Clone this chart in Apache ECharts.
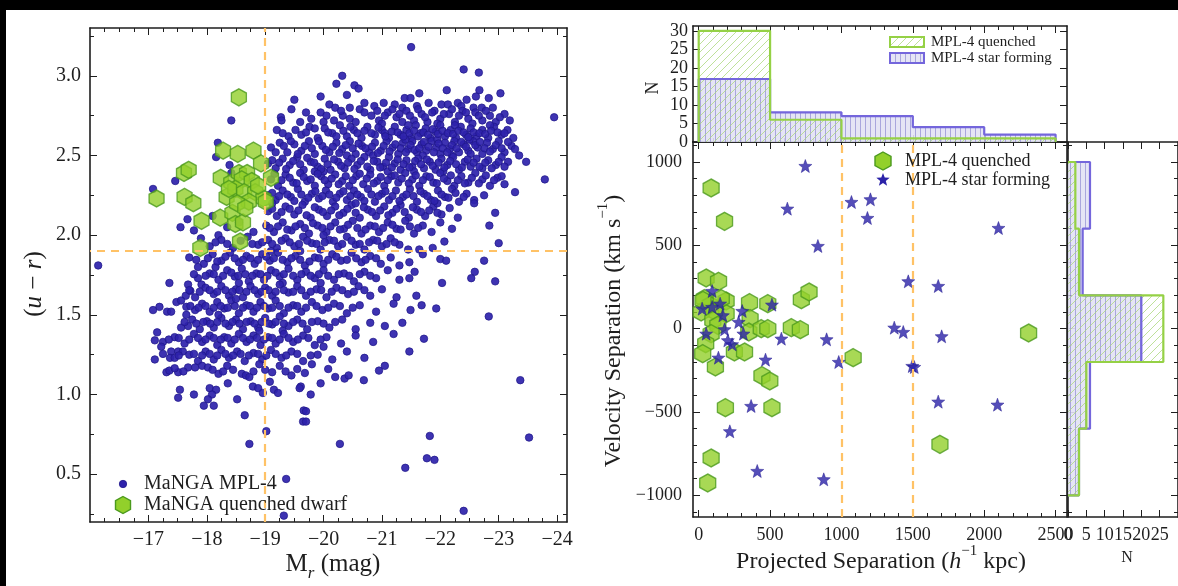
<!DOCTYPE html>
<html><head><meta charset="utf-8">
<script src="https://cdn.jsdelivr.net/npm/echarts@6/dist/echarts.min.js"></script>
<style>html,body{margin:0;padding:0;background:#fff}#chart{width:1178px;height:586px}</style>
</head><body><div id="chart"></div>
<script>
// ---- Colour–magnitude diagram: MaNGA MPL-4 galaxies, [M_r, u-r] ----
const mplGalaxies = [
[-19.50,2.85],[-19.95,2.87],[-20.22,2.95],[-20.32,3.00],[-20.53,2.94],[-20.40,2.88],[-20.60,2.92],[-20.10,2.82],[-20.20,2.80],[-20.45,2.80],[-20.70,2.83],[-20.87,2.81],[-21.03,2.83],[-21.22,2.82],[-21.39,2.86],[-21.64,2.89],[-22.11,2.91],[-22.67,2.91],[-22.61,2.87],[-22.83,2.86],[-23.03,2.89],[-21.49,2.86],[-21.80,2.83],[-22.02,2.82],[-22.13,2.82],[-22.30,2.83],[-22.36,2.81],[-22.57,2.80],[-22.71,2.80],[-22.90,2.80],[-21.50,3.18],[-22.40,3.04],[-22.66,3.02],[-21.60,2.81],[-21.35,2.80],[-22.45,2.85],
[-19.27,2.74],[-19.28,2.72],[-19.79,2.73],[-20.18,2.72],[-20.33,2.75],[-20.45,2.73],[-20.62,2.79],[-20.82,2.75],[-19.95,2.77],[-20.00,2.71],[-20.55,2.71],[-20.95,2.72],[-21.10,2.77],[-21.25,2.74],[-21.42,2.78],[-21.55,2.72],[-21.68,2.76],[-21.78,2.71],[-21.90,2.78],[-22.00,2.73],[-22.15,2.76],[-22.25,2.71],[-22.38,2.78],[-22.48,2.73],[-22.60,2.77],[-22.72,2.72],[-22.85,2.75],[-22.95,2.71],[-23.10,2.76],[-23.19,2.72],[-23.95,2.74],[-21.00,2.70],[-21.35,2.71],[-21.95,2.70],[-22.55,2.70],[-20.70,2.77],[-19.60,2.71],
[-19.62,2.63],[-19.76,2.68],[-20.02,2.67],[-19.40,2.62],[-19.90,2.61],[-20.15,2.64],[-20.28,2.69],[-20.40,2.62],[-20.52,2.66],[-20.65,2.61],[-20.75,2.68],[-20.88,2.63],[-21.00,2.66],[-21.12,2.61],[-21.22,2.68],[-21.32,2.63],[-21.42,2.66],[-21.50,2.61],[-21.58,2.69],[-21.66,2.64],[-21.75,2.67],[-21.83,2.61],[-21.92,2.65],[-22.00,2.69],[-22.08,2.62],[-22.18,2.66],[-22.27,2.61],[-22.35,2.68],[-22.44,2.63],[-22.52,2.67],[-22.62,2.62],[-22.72,2.66],[-22.82,2.61],[-22.92,2.68],[-23.05,2.63],[-23.15,2.66],[-23.25,2.61],[-21.45,2.69],[-21.05,2.64],[-22.25,2.69],[-22.85,2.69],[-19.20,2.66],
[-19.10,2.55],[-19.25,2.58],[-19.38,2.52],[-19.50,2.57],[-19.62,2.53],[-19.75,2.59],[-19.85,2.51],[-19.98,2.56],[-20.10,2.52],[-20.22,2.58],[-20.32,2.54],[-20.45,2.59],[-20.55,2.51],[-20.66,2.56],[-20.78,2.52],[-20.88,2.58],[-20.98,2.53],[-21.08,2.59],[-21.18,2.55],[-21.28,2.51],[-21.36,2.58],[-21.45,2.54],[-21.52,2.59],[-21.60,2.52],[-21.68,2.57],[-21.76,2.53],[-21.85,2.59],[-21.93,2.55],[-22.00,2.51],[-22.08,2.58],[-22.16,2.54],[-22.24,2.59],[-22.32,2.52],[-22.40,2.57],[-22.48,2.53],[-22.56,2.59],[-22.64,2.55],[-22.72,2.51],[-22.80,2.58],[-22.90,2.54],[-23.00,2.59],[-23.10,2.52],[-23.22,2.56],[-23.35,2.50],[-21.40,2.60],[-21.95,2.60],[-22.50,2.60],[-20.40,2.50],[-21.70,2.50],[-22.20,2.50],
[-19.05,2.45],[-19.18,2.42],[-19.30,2.48],[-19.42,2.44],[-19.55,2.49],[-19.66,2.41],[-19.78,2.46],[-19.90,2.43],[-20.02,2.48],[-20.12,2.41],[-20.25,2.46],[-20.36,2.42],[-20.48,2.48],[-20.58,2.44],[-20.70,2.49],[-20.80,2.41],[-20.92,2.46],[-21.02,2.43],[-21.12,2.49],[-21.22,2.45],[-21.32,2.41],[-21.42,2.47],[-21.52,2.43],[-21.62,2.48],[-21.72,2.42],[-21.82,2.46],[-21.92,2.41],[-22.02,2.48],[-22.12,2.44],[-22.22,2.49],[-22.32,2.41],[-22.42,2.46],[-22.52,2.43],[-22.62,2.48],[-22.72,2.42],[-22.82,2.47],[-22.95,2.44],[-23.05,2.49],[-23.16,2.46],[-23.47,2.46],[-20.85,2.50],[-21.55,2.40],[-22.05,2.40],[-19.85,2.40],
[-19.10,2.35],[-19.22,2.31],[-19.35,2.38],[-19.48,2.33],[-19.60,2.39],[-19.72,2.34],[-19.85,2.31],[-19.96,2.37],[-20.08,2.32],[-20.20,2.38],[-20.32,2.34],[-20.44,2.31],[-20.56,2.37],[-20.68,2.32],[-20.80,2.38],[-20.92,2.34],[-21.04,2.31],[-21.16,2.37],[-21.28,2.33],[-21.40,2.39],[-21.52,2.35],[-21.64,2.31],[-21.76,2.37],[-21.88,2.33],[-22.00,2.39],[-22.12,2.34],[-22.24,2.31],[-22.36,2.37],[-22.48,2.33],[-22.60,2.39],[-22.72,2.35],[-22.85,2.31],[-22.98,2.36],[-23.10,2.32],[-23.79,2.35],[-20.00,2.40],[-21.10,2.40],[-18.42,2.39],[-17.46,2.34],
[-18.42,2.72],[-18.19,2.58],[-18.16,2.49],[-18.39,2.44],
[-19.05,2.25],[-19.18,2.22],[-19.30,2.28],[-19.44,2.24],[-19.56,2.29],[-19.68,2.21],[-19.80,2.26],[-19.92,2.23],[-20.04,2.28],[-20.16,2.21],[-20.28,2.26],[-20.40,2.22],[-20.52,2.28],[-20.64,2.24],[-20.76,2.29],[-20.88,2.21],[-21.00,2.26],[-21.12,2.22],[-21.24,2.28],[-21.36,2.24],[-21.48,2.29],[-21.60,2.21],[-21.72,2.26],[-21.84,2.22],[-21.96,2.28],[-22.08,2.24],[-22.20,2.29],[-22.32,2.21],[-22.45,2.26],[-22.58,2.22],[-22.75,2.25],[-23.28,2.27],[-22.58,2.20],[-17.08,2.29],
[-19.05,2.15],[-19.20,2.12],[-19.35,2.18],[-19.50,2.13],[-19.64,2.19],[-19.78,2.11],[-19.92,2.16],[-20.06,2.12],[-20.20,2.18],[-20.34,2.14],[-20.48,2.19],[-20.62,2.11],[-20.76,2.16],[-20.90,2.12],[-21.04,2.18],[-21.18,2.14],[-21.32,2.19],[-21.46,2.11],[-21.60,2.16],[-21.74,2.12],[-21.88,2.18],[-22.02,2.13],[-22.16,2.17],[-22.30,2.11],[-22.94,2.14],[-18.10,2.12],[-17.67,2.10],[-19.12,2.20],[-20.55,2.20],[-21.95,2.20],
[-17.55,2.05],[-17.78,2.03],[-18.35,2.05],[-18.55,2.08],[-19.02,2.06],[-19.15,2.02],[-19.30,2.08],[-19.45,2.03],[-19.60,2.07],[-19.75,2.01],[-19.90,2.06],[-20.05,2.02],[-20.20,2.08],[-20.35,2.04],[-20.50,2.09],[-20.65,2.01],[-20.80,2.06],[-20.95,2.02],[-21.10,2.08],[-21.25,2.04],[-21.40,2.09],[-21.55,2.01],[-21.70,2.06],[-21.85,2.02],[-22.00,2.08],[-22.20,2.04],[-22.84,2.06],[-18.80,2.02],[-18.20,2.00],
[-17.90,1.98],[-18.05,1.93],[-18.25,1.97],[-18.45,1.92],[-18.70,1.99],[-18.88,1.94],[-19.05,1.97],[-19.20,1.92],[-19.35,1.98],[-19.50,1.93],[-19.65,1.99],[-19.80,1.95],[-19.95,1.91],[-20.10,1.97],[-20.25,1.93],[-20.40,1.99],[-20.55,1.94],[-20.70,1.91],[-20.85,1.97],[-21.00,1.93],[-21.15,1.98],[-21.30,1.94],[-21.45,1.91],[-21.64,1.91],[-21.70,1.88],[-21.87,1.92],[-22.07,1.96],[-23.00,1.95],[-19.10,1.90],[-20.00,2.00],
[-17.70,1.86],[-17.95,1.82],[-18.10,1.88],[-18.25,1.84],[-18.40,1.89],[-18.55,1.83],[-18.68,1.87],[-18.82,1.82],[-18.95,1.88],[-19.08,1.84],[-19.22,1.89],[-19.38,1.83],[-19.52,1.87],[-19.68,1.81],[-19.85,1.86],[-20.00,1.82],[-20.15,1.88],[-20.30,1.84],[-20.48,1.89],[-20.65,1.83],[-20.80,1.87],[-20.98,1.82],[-21.15,1.86],[-21.30,1.81],[-21.47,1.83],[-22.00,1.85],[-22.10,1.84],[-22.75,1.84],[-16.14,1.81],[-17.85,1.80],[-19.60,1.90],
[-17.36,1.70],[-17.85,1.73],[-17.91,1.69],[-17.68,1.69],[-18.05,1.76],[-18.20,1.72],[-18.35,1.78],[-18.48,1.74],[-18.60,1.79],[-18.72,1.71],[-18.85,1.76],[-18.98,1.72],[-19.10,1.78],[-19.25,1.74],[-19.40,1.79],[-19.55,1.72],[-19.70,1.77],[-19.85,1.73],[-20.00,1.78],[-20.18,1.72],[-20.35,1.76],[-20.52,1.71],[-20.70,1.77],[-20.90,1.73],[-21.10,1.78],[-21.30,1.72],[-21.56,1.77],[-21.47,1.73],[-22.03,1.70],[-22.59,1.77],[-22.53,1.73],[-22.94,1.71],[-18.15,1.80],[-19.30,1.70],
[-17.64,1.62],[-17.72,1.65],[-17.80,1.61],[-17.98,1.67],[-18.12,1.63],[-18.25,1.68],[-18.38,1.62],[-18.50,1.66],[-18.62,1.61],[-18.75,1.68],[-18.88,1.63],[-19.00,1.67],[-19.12,1.62],[-19.25,1.69],[-19.40,1.64],[-19.55,1.68],[-19.70,1.62],[-19.88,1.66],[-20.05,1.61],[-20.22,1.67],[-20.42,1.63],[-20.60,1.68],[-20.80,1.62],[-21.00,1.66],[-21.25,1.61],[-21.59,1.62],[-18.55,1.70],[-19.95,1.70],
[-17.08,1.53],[-17.19,1.55],[-17.32,1.52],[-17.39,1.52],[-17.48,1.58],[-17.56,1.59],[-17.65,1.50],[-17.65,1.55],[-17.80,1.53],[-17.92,1.57],[-18.05,1.52],[-18.18,1.58],[-18.30,1.54],[-18.42,1.59],[-18.55,1.51],[-18.68,1.56],[-18.80,1.52],[-18.92,1.58],[-19.05,1.54],[-19.18,1.59],[-19.32,1.51],[-19.48,1.56],[-19.62,1.52],[-19.80,1.58],[-19.98,1.53],[-20.18,1.57],[-20.40,1.51],[-20.62,1.56],[-20.90,1.52],[-21.20,1.57],[-21.68,1.56],[-21.93,1.54],[-21.49,1.53],[-18.50,1.60],[-22.83,1.49],
[-17.56,1.42],[-17.68,1.43],[-17.75,1.47],[-17.88,1.41],[-18.00,1.46],[-18.12,1.42],[-18.25,1.48],[-18.38,1.43],[-18.50,1.47],[-18.62,1.41],[-18.75,1.46],[-18.88,1.42],[-19.00,1.48],[-19.12,1.44],[-19.25,1.49],[-19.40,1.43],[-19.55,1.47],[-19.72,1.41],[-19.90,1.46],[-20.10,1.42],[-20.32,1.47],[-20.55,1.41],[-20.80,1.45],[-21.05,1.43],[-21.35,1.45],[-18.20,1.50],[-19.30,1.40],
[-17.15,1.39],[-17.11,1.34],[-17.25,1.33],[-17.22,1.30],[-17.45,1.36],[-17.62,1.32],[-17.78,1.38],[-17.92,1.33],[-18.05,1.37],[-18.18,1.31],[-18.30,1.36],[-18.42,1.32],[-18.55,1.38],[-18.68,1.33],[-18.80,1.37],[-18.92,1.31],[-19.05,1.36],[-19.18,1.32],[-19.32,1.38],[-19.48,1.33],[-19.65,1.37],[-19.85,1.31],[-20.05,1.36],[-20.30,1.32],[-20.55,1.37],[-20.85,1.33],[-21.72,1.35],[-21.20,1.38],[-18.90,1.40],
[-17.11,1.22],[-17.39,1.27],[-17.51,1.27],[-17.59,1.27],[-17.37,1.23],[-17.45,1.23],[-17.70,1.25],[-17.85,1.21],[-17.98,1.27],[-18.12,1.22],[-18.25,1.28],[-18.38,1.23],[-18.52,1.27],[-18.65,1.21],[-18.80,1.26],[-18.95,1.22],[-19.10,1.28],[-19.28,1.23],[-19.45,1.27],[-19.65,1.21],[-19.90,1.25],[-20.15,1.22],[-20.40,1.27],[-20.70,1.23],[-21.47,1.27],[-20.00,1.30],
[-17.31,1.14],[-17.36,1.15],[-17.51,1.14],[-17.68,1.17],[-17.80,1.17],[-17.92,1.18],[-18.02,1.17],[-18.20,1.13],[-18.35,1.18],[-18.60,1.13],[-18.67,1.12],[-18.73,1.11],[-19.12,1.14],[-19.25,1.18],[-19.45,1.12],[-19.55,1.16],[-20.08,1.16],[-20.20,1.11],[-20.36,1.10],[-20.43,1.12],[-20.69,1.09],[-21.05,1.18],[-18.90,1.19],[-19.80,1.19],[-20.95,1.15],[-23.37,1.09],
[-17.54,1.03],[-17.51,0.98],[-17.78,1.00],[-18.05,1.04],[-18.16,1.03],[-18.09,1.00],[-18.02,0.97],[-17.95,0.93],[-18.12,0.93],[-18.36,1.07],[-18.52,0.97],[-18.79,1.05],[-18.88,1.04],[-18.96,1.01],[-19.08,1.08],[-19.15,1.03],[-19.22,1.01],[-19.61,1.05],[-19.59,1.04],[-19.78,1.00],[-19.95,1.07],[-19.66,0.90],[-18.65,0.87],[-19.70,0.895],
[-19.65,0.83],[-19.70,0.83],[-19.02,0.77],[-18.73,0.69],[-20.28,0.69],[-21.40,0.54],[-19.36,0.47],[-19.32,0.24],[-22.40,0.27],[-21.82,0.74],[-21.77,0.60],[-21.90,0.59],[-23.52,0.73],
// red sequence and green valley, inner rows
[-20.92,2.78],[-21.05,2.75],[-21.18,2.79],[-21.30,2.76],[-21.48,2.75],[-21.62,2.79],[-21.74,2.74],[-21.86,2.77],[-22.06,2.76],[-22.20,2.79],[-22.32,2.75],[-22.44,2.77],[-22.66,2.75],[-22.78,2.78],[-23.02,2.74],[-20.30,2.78],[-20.05,2.75],[-19.70,2.77],[-19.45,2.79],
[-19.30,2.64],[-19.52,2.66],[-19.70,2.645],[-19.85,2.67],[-20.08,2.645],[-20.22,2.62],[-20.34,2.655],[-20.46,2.68],[-20.58,2.64],[-20.70,2.655],[-20.82,2.64],[-20.94,2.675],[-21.06,2.62],[-21.17,2.65],[-21.27,2.645],[-21.37,2.62],[-21.47,2.64],[-21.55,2.655],[-21.62,2.62],[-21.71,2.645],[-21.79,2.63],[-21.87,2.665],[-21.96,2.635],[-22.04,2.655],[-22.13,2.64],[-22.22,2.635],[-22.31,2.655],[-22.40,2.645],[-22.48,2.615],[-22.57,2.645],[-22.67,2.64],[-22.77,2.635],[-22.87,2.655],[-22.98,2.645],[-23.10,2.64],
[-19.18,2.52],[-19.32,2.56],[-19.44,2.59],[-19.56,2.51],[-19.68,2.56],[-19.80,2.545],[-19.92,2.59],[-20.04,2.535],[-20.16,2.555],[-20.27,2.515],[-20.38,2.565],[-20.50,2.545],[-20.60,2.575],[-20.72,2.545],[-20.83,2.555],[-20.93,2.515],[-21.03,2.56],[-21.13,2.525],[-21.23,2.57],[-21.32,2.545],[-21.41,2.52],[-21.49,2.565],[-21.56,2.535],[-21.64,2.545],[-21.72,2.585],[-21.80,2.555],[-21.89,2.52],[-21.97,2.575],[-22.04,2.545],[-22.12,2.52],[-22.20,2.565],[-22.28,2.545],[-22.36,2.585],[-22.44,2.555],[-22.52,2.51],[-22.60,2.565],[-22.68,2.585],[-22.76,2.545],[-22.85,2.525],[-22.95,2.565],[-23.05,2.545],[-23.16,2.585],[-23.28,2.54],
[-19.12,2.47],[-19.24,2.455],[-19.36,2.415],[-19.48,2.465],[-19.60,2.445],[-19.72,2.485],[-19.84,2.455],[-19.96,2.415],[-20.07,2.445],[-20.18,2.475],[-20.30,2.435],[-20.42,2.455],[-20.53,2.415],[-20.64,2.465],[-20.75,2.43],[-20.86,2.465],[-20.97,2.425],[-21.07,2.455],[-21.17,2.425],[-21.27,2.475],[-21.37,2.445],[-21.47,2.425],[-21.57,2.465],[-21.67,2.445],[-21.77,2.475],[-21.87,2.435],[-21.97,2.455],[-22.07,2.425],[-22.17,2.465],[-22.27,2.445],[-22.37,2.425],[-22.47,2.475],[-22.57,2.455],[-22.67,2.43],[-22.77,2.455],[-22.88,2.42],[-23.00,2.46],[-23.10,2.43],
[-19.16,2.385],[-19.28,2.345],[-19.42,2.36],[-19.54,2.325],[-19.66,2.365],[-19.78,2.35],[-19.90,2.385],[-20.02,2.345],[-20.14,2.355],[-20.26,2.32],[-20.38,2.37],[-20.50,2.345],[-20.62,2.385],[-20.74,2.355],[-20.86,2.325],[-20.98,2.365],[-21.10,2.345],[-21.22,2.375],[-21.34,2.355],[-21.46,2.325],[-21.58,2.375],[-21.70,2.345],[-21.82,2.365],[-21.94,2.325],[-22.06,2.355],[-22.18,2.375],[-22.30,2.345],[-22.42,2.325],[-22.54,2.36],[-22.66,2.325],[-22.78,2.375],[-22.92,2.345],[-23.05,2.37],
[-19.12,2.265],[-19.24,2.245],[-19.38,2.255],[-19.50,2.215],[-19.62,2.255],[-19.74,2.235],[-19.86,2.275],[-19.98,2.245],[-20.10,2.255],[-20.22,2.235],[-20.34,2.275],[-20.46,2.245],[-20.58,2.255],[-20.70,2.215],[-20.82,2.255],[-20.94,2.245],[-21.06,2.275],[-21.18,2.245],[-21.30,2.215],[-21.42,2.255],[-21.54,2.245],[-21.66,2.275],[-21.78,2.245],[-21.90,2.215],[-22.02,2.255],[-22.14,2.235],[-22.26,2.265],[-22.40,2.24],
[-19.12,2.165],[-19.28,2.145],[-19.42,2.165],[-19.57,2.155],[-19.71,2.125],[-19.85,2.175],[-19.99,2.145],[-20.13,2.155],[-20.27,2.125],[-20.41,2.165],[-20.55,2.14],[-20.69,2.175],[-20.83,2.145],[-20.97,2.155],[-21.11,2.125],[-21.25,2.165],[-21.39,2.145],[-21.53,2.175],[-21.67,2.145],[-21.81,2.155],[-21.95,2.14],
[-19.08,2.045],[-19.22,2.055],[-19.38,2.035],[-19.52,2.055],[-19.68,2.045],[-19.82,2.075],[-19.98,2.045],[-20.12,2.055],[-20.28,2.035],[-20.42,2.065],[-20.58,2.045],[-20.72,2.035],[-20.88,2.055],[-21.02,2.045],[-21.18,2.065],[-21.32,2.035],[-21.48,2.055],[-21.62,2.045],
// blue cloud, inner rows
[-18.15,1.955],[-18.35,1.945],[-18.58,1.965],[-18.78,1.945],[-18.95,1.955],[-19.12,1.945],[-19.28,1.965],[-19.42,1.955],[-19.58,1.945],[-19.72,1.965],[-19.88,1.945],[-20.02,1.955],[-20.18,1.965],[-20.32,1.945],[-20.48,1.965],[-20.62,1.945],[-20.78,1.955],[-20.92,1.965],[-21.08,1.945],[-21.22,1.955],
[-17.82,1.845],[-18.02,1.855],[-18.18,1.835],[-18.32,1.865],[-18.48,1.855],[-18.62,1.845],[-18.75,1.855],[-18.88,1.845],[-19.02,1.865],[-19.15,1.855],[-19.30,1.845],[-19.45,1.855],[-19.60,1.845],[-19.76,1.835],[-19.92,1.855],[-20.08,1.845],[-20.22,1.865],[-20.40,1.845],[-20.56,1.855],[-20.72,1.845],[-20.90,1.855],
[-17.78,1.755],[-17.98,1.745],[-18.12,1.755],[-18.28,1.745],[-18.42,1.765],[-18.54,1.745],[-18.66,1.755],[-18.78,1.745],[-18.92,1.755],[-19.04,1.745],[-19.18,1.765],[-19.32,1.755],[-19.48,1.745],[-19.62,1.755],[-19.78,1.745],[-19.92,1.755],[-20.08,1.745],[-20.26,1.755],[-20.44,1.745],[-20.62,1.755],[-20.80,1.745],
[-17.70,1.655],[-17.88,1.645],[-18.05,1.655],[-18.18,1.645],[-18.32,1.655],[-18.44,1.645],[-18.56,1.655],[-18.68,1.645],[-18.82,1.655],[-18.94,1.645],[-19.06,1.655],[-19.18,1.645],[-19.32,1.655],[-19.48,1.645],[-19.62,1.655],[-19.78,1.645],[-19.96,1.655],[-20.14,1.645],[-20.32,1.655],[-20.52,1.645],[-20.70,1.655],
[-17.72,1.555],[-17.86,1.545],[-17.98,1.555],[-18.12,1.545],[-18.24,1.555],[-18.36,1.545],[-18.48,1.555],[-18.62,1.545],[-18.74,1.555],[-18.86,1.545],[-18.98,1.555],[-19.12,1.545],[-19.25,1.555],[-19.40,1.545],[-19.55,1.555],[-19.70,1.545],[-19.88,1.555],[-20.08,1.545],[-20.28,1.555],[-20.50,1.545],
[-17.62,1.455],[-17.82,1.445],[-17.94,1.455],[-18.06,1.445],[-18.18,1.455],[-18.32,1.445],[-18.44,1.455],[-18.56,1.445],[-18.68,1.455],[-18.82,1.445],[-18.94,1.455],[-19.06,1.445],[-19.18,1.455],[-19.32,1.445],[-19.48,1.455],[-19.64,1.445],[-19.80,1.455],[-20.00,1.445],[-20.20,1.455],
[-17.35,1.345],[-17.52,1.355],[-17.70,1.345],[-17.85,1.355],[-17.98,1.345],[-18.12,1.355],[-18.24,1.345],[-18.36,1.355],[-18.48,1.345],[-18.62,1.355],[-18.74,1.345],[-18.86,1.355],[-18.98,1.345],[-19.12,1.355],[-19.25,1.345],[-19.40,1.355],[-19.56,1.345],[-19.74,1.355],[-19.95,1.345],
[-17.25,1.255],[-17.52,1.245],[-17.78,1.255],[-17.92,1.245],[-18.05,1.255],[-18.18,1.245],[-18.32,1.255],[-18.45,1.245],[-18.58,1.255],[-18.72,1.245],[-18.88,1.255],[-19.02,1.245],[-19.18,1.255],[-19.36,1.245],[-19.55,1.255],[-19.78,1.245],
[-17.45,1.165],[-17.60,1.145],[-18.10,1.155],[-18.28,1.145],[-18.45,1.155],[-18.80,1.145],[-19.00,1.155],[-19.35,1.145],[-19.68,1.135]
];
const quenchedDwarfs = [
[-18.55,2.865],[-18.28,2.53],[-18.53,2.51],[-18.80,2.53],[-18.93,2.45],[-17.61,2.39],[-17.69,2.41],[-18.24,2.36],[-18.42,2.33],[-18.55,2.39],[-18.69,2.39],[-18.60,2.35],[-18.77,2.34],[-19.10,2.36],[-17.14,2.23],[-17.62,2.24],[-17.77,2.20],[-18.34,2.24],[-18.49,2.29],[-18.64,2.27],[-18.83,2.27],[-18.97,2.23],[-19.01,2.21],[-18.72,2.21],[-18.23,2.11],[-18.44,2.14],[-17.91,2.09],[-18.49,2.07],[-18.62,2.08],[-18.57,1.96],[-17.89,1.92],[-18.38,2.29],[-18.52,2.20],[-18.88,2.31],[-18.66,2.17]
];
const magCut = -19;
const colourCut = 1.9;
const magTicks = [-17,-18,-19,-20,-21,-22,-23,-24];
const colourTicks = [0.5,1.0,1.5,2.0,2.5,3.0];

// ---- Pair separations: [projected separation (h^-1 kpc), velocity separation (km/s)] ----
const pairsQuenched = [
[87,844],[181,644],[52,304],[139,284],[40,180],[80,140],[192,166],[192,90],[356,156],[360,60],[484,150],[110,106],[17,100],[99,50],[134,20],[87,-30],[49,-90],[28,-150],[117,-230],[250,-140],[321,-140],[351,-20],[438,0],[484,0],[649,6],[712,-6],[719,174],[773,220],[443,-282],[498,-314],[187,-474],[513,-474],[1082,-174],[2311,-26],[1690,-694],[87,-776],[63,-926],[158,180],[30,170]
];
const pairsStarForming = [
[747,976],[621,720],[1070,760],[1203,776],[1182,664],[2100,604],[835,496],[1468,284],[1678,256],[94,226],[24,120],[94,130],[169,80],[305,106],[513,144],[52,-30],[181,-4],[204,-70],[234,-94],[313,-30],[579,-60],[896,-64],[1370,6],[1433,-20],[1702,-46],[138,-174],[468,-186],[981,-200],[1496,-224],[1510,-230],[367,-464],[1678,-438],[2093,-456],[218,-616],[410,-854],[876,-904],[150,150],[280,40]
];
const sepCuts = [1000,1500];
const sepTicks = [0,500,1000,1500,2000,2500];
const velTicks = [-1000,-500,0,500,1000];

// ---- Marginal histograms ----
const sepBinEdges = [0,500,1000,1500,2000,2500];
const sepCountQuenched = [30,6,1,1,1];
const sepCountStarForming = [17,8,7,4,2];
const velBinEdges = [-1000,-600,-200,200,600,1000];
const velCountQuenched = [3,5,26,3,2];
const velCountStarForming = [3,6,20,4,6];
const countTicksTop = [0,5,10,15,20,25,30];
const countTicksSide = [0,5,10,15,20,25];

// ---------------- styling ----------------
const FONT = '"Liberation Serif","Times New Roman",serif';
const INK = '#1e1e1e';
const DOT = '#2e22ab';
const HEX_FILL = '#92d02b', HEX_EDGE = '#4b9a1d';
const STAR = '#2b22a8';
const HIST_GREEN = '#95d145', HIST_BLUE = '#7466dc';
const CUT = '#ffc266';

const hexSymbol = 'path://M0,-1L0.866,-0.5L0.866,0.5L0,1L-0.866,0.5L-0.866,-0.5Z';
function starPoints(cx, cy, r) {
  const pts = [];
  for (let i = 0; i < 10; i++) {
    const rr = i % 2 ? r * 0.42 : r;
    const a = -Math.PI / 2 + i * Math.PI / 5;
    pts.push([cx + rr * Math.cos(a), cy + rr * Math.sin(a)]);
  }
  return pts;
}
const starSymbol = 'path://' + starPoints(0, 0, 1).map((p, i) => (i ? 'L' : 'M') + p[0].toFixed(3) + ',' + p[1].toFixed(3)).join('') + 'Z';
function hexPoints(cx, cy, w, h) {
  return [[cx, cy - h/2],[cx + w/2, cy - h/4],[cx + w/2, cy + h/4],[cx, cy + h/2],[cx - w/2, cy + h/4],[cx - w/2, cy - h/4]];
}

// hatch fills
function makePattern(kind) {
  const c = document.createElement('canvas');
  const n = kind === 'vert' ? 5 : 8;
  c.width = n; c.height = n;
  const g = c.getContext('2d');
  if (kind === 'vert') {
    g.fillStyle = 'rgba(226,226,244,0.9)';
    g.fillRect(0, 0, n, n);
    g.fillStyle = 'rgba(150,146,214,0.75)';
    g.fillRect(0, 0, 1, n);
  } else {
    g.strokeStyle = 'rgba(170,215,120,0.75)';
    g.lineWidth = 1;
    g.beginPath();
    g.moveTo(-2, n + 2); g.lineTo(n + 2, -2);
    g.moveTo(-2 - n, n + 2); g.lineTo(2, -2);
    g.moveTo(n - 2, n + 2); g.lineTo(2 * n + 2, -2);
    g.stroke();
  }
  return { image: c, repeat: 'repeat' };
}
const patBlue = makePattern('vert');
const patGreen = makePattern('diag');

const fmtSigned = d => v => (v < 0 ? '\u2212' : '') + Math.abs(v).toFixed(d);

// ---------------- axes (frame + inward ticks on all four sides) ----------------
const xAxes = [], yAxes = [];
function axisCfg(g, pos, s, ticks, len, labels, line) {
  return {
    type: 'value', gridIndex: g, position: pos, min: s.min, max: s.max, inverse: !!s.inverse,
    axisLine: { show: line, onZero: false, lineStyle: { color: INK, width: 1.6 } },
    axisTick: { show: true, inside: true, length: len, customValues: ticks, lineStyle: { color: INK, width: 1 } },
    axisLabel: { show: labels, customValues: ticks, formatter: s.fmt, fontFamily: FONT, fontSize: s.fontSize || 18, color: INK, margin: s.margin == null ? 8 : s.margin, hideOverlap: false },
    splitLine: { show: false }, minorTick: { show: false }
  };
}
function panelAxes(g, xs, ys) {
  let xMain = -1, yMain = -1;
  ['bottom', 'top'].forEach(pos => {
    xAxes.push(axisCfg(g, pos, xs, xs.major, 7, pos === 'bottom' && !!xs.labels, true));
    if (pos === 'bottom') xMain = xAxes.length - 1;
    if (xs.minor) xAxes.push(axisCfg(g, pos, xs, xs.minor, 4, false, false));
  });
  ['left', 'right'].forEach(pos => {
    yAxes.push(axisCfg(g, pos, ys, ys.major, 7, pos === 'left' && !!ys.labels, true));
    if (pos === 'left') yMain = yAxes.length - 1;
    if (ys.minor) yAxes.push(axisCfg(g, pos, ys, ys.minor, 4, false, false));
  });
  return { x: xMain, y: yMain };
}
function range(a, b, step) { const out = []; for (let v = a; v <= b + 1e-9; v += step) out.push(+v.toFixed(6)); return out; }

const cmd = panelAxes(0,
  { min: -24.17, max: -16, inverse: true, major: magTicks, minor: range(-24, -16.25, 0.25), labels: true, fmt: fmtSigned(0), fontSize: 20, margin: 8 },
  { min: 0.2, max: 3.3, major: colourTicks, minor: range(0.25, 3.25, 0.25), labels: true, fmt: fmtSigned(1), fontSize: 20, margin: 9 });
const sep = panelAxes(1,
  { min: -40, max: 2580, major: sepTicks, minor: range(0, 2500, 100), labels: true, fmt: fmtSigned(0), fontSize: 18, margin: 9 },
  { min: -1130, max: 1120, major: velTicks, minor: range(-1100, 1100, 100), labels: true, fmt: fmtSigned(0), fontSize: 18, margin: 11 });
const topH = panelAxes(2,
  { min: -40, max: 2580, major: sepTicks, minor: range(0, 2500, 100), labels: false },
  { min: 0, max: 31.3, major: countTicksTop, labels: true, fmt: v => String(v), fontSize: 18, margin: 5 });
const sideH = panelAxes(3,
  { min: 0, max: 30, major: countTicksSide, labels: true, fmt: v => String(v), fontSize: 18, margin: 9 },
  { min: -1130, max: 1120, major: velTicks, minor: range(-1100, 1100, 100), labels: false });

// ---------------- histogram helpers ----------------
function barItems(edges, counts) { return counts.map((c, i) => [edges[i], edges[i + 1], c]); }
function vOutline(edges, counts) {
  const pts = [[edges[0], 0]];
  counts.forEach((c, i) => { pts.push([edges[i], c]); pts.push([edges[i + 1], c]); });
  pts.push([edges[edges.length - 1], 0]);
  return pts;
}
function hOutline(edges, counts) {
  const pts = [[0, edges[0]]];
  counts.forEach((c, i) => { pts.push([c, edges[i]]); pts.push([c, edges[i + 1]]); });
  pts.push([0, edges[edges.length - 1]]);
  return pts;
}
function vBarRender(fill) {
  return (params, api) => {
    const a = api.coord([api.value(0), api.value(2)]);
    const b = api.coord([api.value(1), 0]);
    return { type: 'rect', shape: { x: a[0], y: a[1], width: b[0] - a[0], height: b[1] - a[1] }, style: { fill: fill } };
  };
}
function hBarRender(fill) {
  return (params, api) => {
    const a = api.coord([0, api.value(1)]);
    const b = api.coord([api.value(2), api.value(0)]);
    return { type: 'rect', shape: { x: a[0], y: a[1], width: b[0] - a[0], height: b[1] - a[1] }, style: { fill: fill } };
  };
}
const cutLine = { color: CUT, width: 2.2, type: [8, 6] };

const series = [
  // reference cuts
  { type: 'scatter', xAxisIndex: cmd.x, yAxisIndex: cmd.y, data: [], z: 1, silent: true,
    markLine: { silent: true, symbol: 'none', label: { show: false }, lineStyle: cutLine, animation: false,
      data: [{ xAxis: magCut }, { yAxis: colourCut }] } },
  { type: 'scatter', xAxisIndex: sep.x, yAxisIndex: sep.y, data: [], z: 1, silent: true,
    markLine: { silent: true, symbol: 'none', label: { show: false }, lineStyle: cutLine, animation: false,
      data: sepCuts.map(v => ({ xAxis: v })) } },
  // colour–magnitude diagram
  { name: 'MaNGA MPL-4', type: 'scatter', xAxisIndex: cmd.x, yAxisIndex: cmd.y, data: mplGalaxies, z: 3,
    symbol: 'circle', symbolSize: 7.5, large: false, itemStyle: { color: DOT, borderColor: '#20178a', borderWidth: 0.8, opacity: 0.92 } },
  { name: 'MaNGA quenched dwarf', type: 'scatter', xAxisIndex: cmd.x, yAxisIndex: cmd.y, data: quenchedDwarfs, z: 4,
    symbol: hexSymbol, symbolSize: [15, 17], itemStyle: { color: HEX_FILL, borderColor: HEX_EDGE, borderWidth: 1.4 } },
  // separations
  { name: 'MPL-4 quenched', type: 'scatter', xAxisIndex: sep.x, yAxisIndex: sep.y, data: pairsQuenched, z: 3,
    symbol: hexSymbol, symbolSize: [16, 18], itemStyle: { color: HEX_FILL, borderColor: HEX_EDGE, borderWidth: 1.4 } },
  { name: 'MPL-4 star forming', type: 'scatter', xAxisIndex: sep.x, yAxisIndex: sep.y, data: pairsStarForming, z: 4,
    symbol: starSymbol, symbolSize: 13, itemStyle: { color: STAR, borderColor: '#1f1790', borderWidth: 0.6 } },
  // top histogram (projected separation)
  { type: 'custom', xAxisIndex: topH.x, yAxisIndex: topH.y, data: barItems(sepBinEdges, sepCountStarForming),
    encode: { x: [0, 1], y: 2 }, renderItem: vBarRender(patBlue), z: 2, silent: true },
  { type: 'custom', xAxisIndex: topH.x, yAxisIndex: topH.y, data: barItems(sepBinEdges, sepCountQuenched),
    encode: { x: [0, 1], y: 2 }, renderItem: vBarRender(patGreen), z: 3, silent: true },
  { type: 'line', xAxisIndex: topH.x, yAxisIndex: topH.y, data: vOutline(sepBinEdges, sepCountStarForming), z: 4,
    symbol: 'none', lineStyle: { color: HIST_BLUE, width: 2.2 }, silent: true },
  { type: 'line', xAxisIndex: topH.x, yAxisIndex: topH.y, data: vOutline(sepBinEdges, sepCountQuenched), z: 5,
    symbol: 'none', lineStyle: { color: HIST_GREEN, width: 2.2 }, silent: true },
  // side histogram (velocity separation)
  { type: 'custom', xAxisIndex: sideH.x, yAxisIndex: sideH.y, data: barItems(velBinEdges, velCountStarForming),
    encode: { x: 2, y: [0, 1] }, renderItem: hBarRender(patBlue), z: 2, silent: true },
  { type: 'custom', xAxisIndex: sideH.x, yAxisIndex: sideH.y, data: barItems(velBinEdges, velCountQuenched),
    encode: { x: 2, y: [0, 1] }, renderItem: hBarRender(patGreen), z: 3, silent: true },
  { type: 'line', xAxisIndex: sideH.x, yAxisIndex: sideH.y, data: hOutline(velBinEdges, velCountStarForming), z: 4,
    symbol: 'none', lineStyle: { color: HIST_BLUE, width: 2.2 }, silent: true },
  { type: 'line', xAxisIndex: sideH.x, yAxisIndex: sideH.y, data: hOutline(velBinEdges, velCountQuenched), z: 5,
    symbol: 'none', lineStyle: { color: HIST_GREEN, width: 2.2 }, silent: true }
];

// ---------------- titles and legends ----------------
const txt = (x, y, text, size, extra) => Object.assign({ type: 'text', x: x, y: y, z: 100,
  style: Object.assign({ text: text, fontFamily: FONT, fontSize: size, fill: INK, align: 'left', verticalAlign: 'middle' }, (extra && extra.style) || {}) },
  extra ? { rotation: extra.rotation || 0 } : {});
const graphics = [
  { type: 'rect', shape: { x: 0, y: 0, width: 1178, height: 10 }, style: { fill: '#000' }, z: 200 },
  { type: 'rect', shape: { x: 0, y: 0, width: 6, height: 586 }, style: { fill: '#000' }, z: 200 },
  // axis titles
  txt(34, 284, '({i|u} \u2212 {i|r})', 25, { rotation: Math.PI / 2, style: { align: 'center',
    rich: { i: { fontStyle: 'italic', fontFamily: FONT, fontSize: 25 } } } }),
  txt(333, 564, 'M{s|r} (mag)', 25, { style: { align: 'center', lineHeight: 26,
    rich: { s: { fontStyle: 'italic', fontFamily: FONT, fontSize: 17, lineHeight: 36, verticalAlign: 'bottom' } } } }),
  txt(614, 331, 'Velocity Separation (km s{p|\u22121})', 24, { rotation: Math.PI / 2, style: { align: 'center', lineHeight: 26,
    rich: { p: { fontFamily: FONT, fontSize: 15, lineHeight: 36, verticalAlign: 'top' } } } }),
  txt(881, 562, 'Projected Separation ({i|h}{p|\u22121} kpc)', 24, { style: { align: 'center', lineHeight: 26,
    rich: { i: { fontStyle: 'italic', fontFamily: FONT, fontSize: 24, lineHeight: 26 },
            p: { fontFamily: FONT, fontSize: 15, lineHeight: 36, verticalAlign: 'top' } } } }),
  txt(653, 88, 'N', 18, { rotation: Math.PI / 2, style: { align: 'center' } }),
  txt(1127, 558, 'N', 16, { style: { align: 'center' } }),
  // colour–magnitude legend
  { type: 'circle', shape: { cx: 123, cy: 484, r: 3.7 }, style: { fill: DOT, stroke: '#20178a', lineWidth: 0.8 }, z: 100 },
  { type: 'polygon', shape: { points: hexPoints(123, 505, 15, 17) }, style: { fill: HEX_FILL, stroke: HEX_EDGE, lineWidth: 1.4 }, z: 100 },
  txt(144, 484, 'MaNGA MPL-4', 20),
  txt(144, 505, 'MaNGA quenched dwarf', 20),
  // separation legend
  { type: 'polygon', shape: { points: hexPoints(883, 161, 16, 18) }, style: { fill: HEX_FILL, stroke: HEX_EDGE, lineWidth: 1.4 }, z: 100 },
  { type: 'polygon', shape: { points: starPoints(883, 180, 7) }, style: { fill: STAR }, z: 100 },
  txt(905, 161, 'MPL-4 quenched', 18),
  txt(905, 180, 'MPL-4 star forming', 18),
  // histogram legend
  { type: 'rect', shape: { x: 890, y: 37, width: 34, height: 10 }, style: { fill: patGreen, stroke: HIST_GREEN, lineWidth: 2 }, z: 100 },
  { type: 'rect', shape: { x: 890, y: 53, width: 34, height: 10 }, style: { fill: patBlue, stroke: HIST_BLUE, lineWidth: 2 }, z: 100 },
  txt(931, 42, 'MPL-4 quenched', 15),
  txt(931, 58, 'MPL-4 star forming', 15)
];

const chart = echarts.init(document.getElementById('chart'), null, { renderer: 'canvas' });
chart.setOption({
  backgroundColor: '#ffffff',
  animation: false,
  grid: [
    { left: 90, top: 28, width: 477, height: 494 },
    { left: 693, top: 142, width: 374, height: 375 },
    { left: 693, top: 26, width: 374, height: 116 },
    { left: 1068, top: 142, width: 119, height: 375 }
  ],
  xAxis: xAxes,
  yAxis: yAxes,
  series: series,
  graphic: graphics
});
</script></body></html>
